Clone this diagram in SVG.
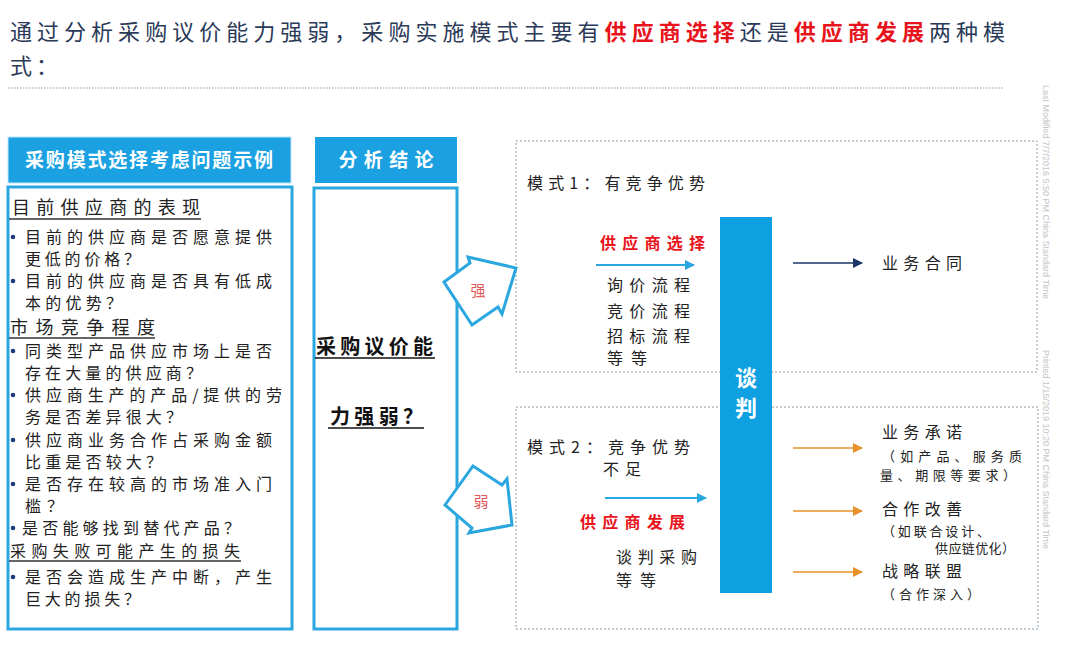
<svg xmlns="http://www.w3.org/2000/svg" width="1080" height="651" viewBox="0 0 1080 651">
<defs>
<style>
text{font-family:"Noto Sans CJK SC","Liberation Sans",sans-serif;}
.title{font-size:22px;fill:#2b3a58;}
.hdr{font-size:19px;fill:#fff;font-weight:bold;}
.lt{font-size:16px;fill:#222;}
.lh{font-size:18px;fill:#222;}
.t{font-size:16px;fill:#222;}
.s{font-size:13px;fill:#222;}
.mid{font-size:20px;fill:#111;font-weight:bold;}
text.red,tspan.red{fill:#e8141c;font-weight:bold;}
.bluefill{fill:#1ba1e2;}
.box{fill:none;stroke:#2aa7df;stroke-width:3;}
.dash{fill:none;stroke:#8a9aa8;stroke-width:1;stroke-dasharray:2 2;}
.ul{stroke:#333;stroke-width:1.5;}
.bul{fill:#1f3a78;}
.blk{fill:#fff;stroke:#2aa7df;stroke-width:3;stroke-linejoin:miter;}
.tiny{font-family:"Liberation Sans",sans-serif;font-size:9px;fill:#c4c4c4;}
</style>
<marker id="mb" viewBox="0 0 10 10" refX="9" refY="5" markerWidth="10" markerHeight="10" markerUnits="userSpaceOnUse" orient="auto"><path d="M0,0 L10,5 L0,10 z" fill="#2aa7df"/></marker>
<marker id="mn" viewBox="0 0 10 10" refX="9" refY="5" markerWidth="10" markerHeight="10" markerUnits="userSpaceOnUse" orient="auto"><path d="M0,0 L10,5 L0,10 z" fill="#1b3566"/></marker>
<marker id="mo" viewBox="0 0 10 10" refX="9" refY="5" markerWidth="10" markerHeight="10" markerUnits="userSpaceOnUse" orient="auto"><path d="M0,0 L10,5 L0,10 z" fill="#e8902a"/></marker>
</defs>
<rect width="1080" height="651" fill="#fff"/>

<g id="title">
<text class="title" x="10" y="40" textLength="995" lengthAdjust="spacing">通过分析采购议价能力强弱，采购实施模式主要有<tspan class="red">供应商选择</tspan>还是<tspan class="red">供应商发展</tspan>两种模</text>
<text class="title" x="10" y="74" textLength="48" lengthAdjust="spacing">式：</text>
<line x1="8" y1="88" x2="1003" y2="88" stroke="#999" stroke-width="1.2" stroke-dasharray="1.5 1.5"/>
</g>

<g id="footer">
<text class="tiny" transform="translate(1043,85) rotate(90)">Last Modified 7/7/2016 5:50 PM China Standard Time</text>
<text class="tiny" transform="translate(1043,350) rotate(90)">Printed 1/15/2019 10:20 PM China Standard Time</text>
</g>

<g id="left-header">
<rect class="bluefill" x="8" y="137" width="283" height="46" stroke="#bfe6f7" stroke-width="1"/>
<text class="hdr" x="149" y="167" text-anchor="middle" textLength="248" lengthAdjust="spacing">采购模式选择考虑问题示例</text>
</g>

<g id="left-box">
<rect class="box" x="8" y="187" width="284" height="442"/>
<text class="lh" x="12" y="214" textLength="188" lengthAdjust="spacing">目前供应商的表现</text>
<line class="ul" x1="9" y1="219" x2="201" y2="219"/>
<circle class="bul" cx="13" cy="237" r="2.3"/>
<text class="lt" x="25" y="243" textLength="247" lengthAdjust="spacing">目前的供应商是否愿意提供</text>
<text class="lt" x="25" y="265" textLength="115" lengthAdjust="spacing">更低的价格？</text>
<circle class="bul" cx="13" cy="281" r="2.3"/>
<text class="lt" x="25" y="287" textLength="247" lengthAdjust="spacing">目前的供应商是否具有低成</text>
<text class="lt" x="25" y="309" textLength="97" lengthAdjust="spacing">本的优势？</text>
<text class="lh" x="10" y="334" textLength="145" lengthAdjust="spacing">市场竞争程度</text>
<line class="ul" x1="9" y1="338" x2="155" y2="338"/>
<circle class="bul" cx="13" cy="351" r="2.3"/>
<text class="lt" x="25" y="357" textLength="247" lengthAdjust="spacing">同类型产品供应市场上是否</text>
<text class="lt" x="25" y="379" textLength="177" lengthAdjust="spacing">存在大量的供应商？</text>
<circle class="bul" cx="13" cy="395" r="2.3"/>
<text class="lt" x="25" y="401" textLength="257" lengthAdjust="spacing">供应商生产的产品/提供的劳</text>
<text class="lt" x="25" y="423" textLength="157" lengthAdjust="spacing">务是否差异很大？</text>
<circle class="bul" cx="13" cy="440" r="2.3"/>
<text class="lt" x="25" y="446" textLength="247" lengthAdjust="spacing">供应商业务合作占采购金额</text>
<text class="lt" x="25" y="468" textLength="137" lengthAdjust="spacing">比重是否较大？</text>
<circle class="bul" cx="13" cy="484" r="2.3"/>
<text class="lt" x="25" y="490" textLength="247" lengthAdjust="spacing">是否存在较高的市场准入门</text>
<text class="lt" x="25" y="512" textLength="38" lengthAdjust="spacing">槛？</text>
<circle class="bul" cx="13" cy="528" r="2.3"/>
<text class="lt" x="22" y="534" textLength="218" lengthAdjust="spacing">是否能够找到替代产品？</text>
<text class="lt" x="10" y="557" textLength="230" lengthAdjust="spacing">采购失败可能产生的损失</text>
<line class="ul" x1="9" y1="561" x2="241" y2="561"/>
<circle class="bul" cx="13" cy="577" r="2.3"/>
<text class="lt" x="25" y="583" textLength="247" lengthAdjust="spacing">是否会造成生产中断，产生</text>
<text class="lt" x="25" y="605" textLength="115" lengthAdjust="spacing">巨大的损失？</text>
</g>

<g id="mid-header">
<rect class="bluefill" x="315" y="137" width="142" height="46"/>
<text class="hdr" x="386" y="167" text-anchor="middle" textLength="95" lengthAdjust="spacing">分析结论</text>
</g>

<g id="mid-box">
<rect class="box" x="314" y="188" width="143" height="441"/>
<text class="mid" x="316" y="354" textLength="117" lengthAdjust="spacing">采购议价能</text>
<line x1="315" y1="358" x2="435" y2="358" stroke="#111" stroke-width="1.5"/>
<text class="mid" x="330" y="424" textLength="93" lengthAdjust="spacing">力强弱？</text>
<line x1="328" y1="428" x2="424" y2="428" stroke="#111" stroke-width="1.5"/>
</g>

<g id="mode1">
<rect class="dash" x="516" y="141" width="521" height="231"/>
<text class="t" x="527" y="189" textLength="178" lengthAdjust="spacing">模式1：有竞争优势</text>
<text class="t red" x="600" y="249" textLength="105" lengthAdjust="spacing">供应商选择</text>
<text class="t" x="607" y="291" textLength="83" lengthAdjust="spacing">询价流程</text>
<text class="t" x="607" y="317" textLength="83" lengthAdjust="spacing">竞价流程</text>
<text class="t" x="607" y="342" textLength="83" lengthAdjust="spacing">招标流程</text>
<text class="t" x="607" y="364" textLength="40" lengthAdjust="spacing">等等</text>
</g>

<g id="mode2">
<rect class="dash" x="516" y="407" width="522" height="222"/>
<text class="t" x="527" y="453" textLength="163" lengthAdjust="spacing">模式2：竞争优势</text>
<text class="t" x="603" y="475" textLength="38" lengthAdjust="spacing">不足</text>
<text class="t red" x="580" y="528" textLength="105" lengthAdjust="spacing">供应商发展</text>
<text class="t" x="616" y="563" textLength="81" lengthAdjust="spacing">谈判采购</text>
<text class="t" x="616" y="586" textLength="40" lengthAdjust="spacing">等等</text>
</g>

<g id="negotiation">
<rect x="720" y="217" width="52" height="376" fill="#0ea0e0"/>
<text x="746" y="386" text-anchor="middle" font-size="22" font-weight="bold" fill="#fff">谈</text>
<text x="746" y="416" text-anchor="middle" font-size="22" font-weight="bold" fill="#fff">判</text>
</g>

<g id="result-contract">
<text class="t" x="882" y="269" textLength="80" lengthAdjust="spacing">业务合同</text>
</g>

<g id="result-commit">
<text class="t" x="882" y="438" textLength="80" lengthAdjust="spacing">业务承诺</text>
<text class="s" x="882" y="461" textLength="140" lengthAdjust="spacing">（如产品、服务质</text>
<text class="s" x="880" y="480" textLength="136" lengthAdjust="spacing">量、期限等要求）</text>
</g>

<g id="result-improve">
<text class="t" x="882" y="515" textLength="80" lengthAdjust="spacing">合作改善</text>
<text class="s" x="882" y="536" font-size="12" textLength="108" lengthAdjust="spacing">（如联合设计、</text>
<text class="s" x="935" y="553" font-size="12" textLength="80" lengthAdjust="spacing">供应链优化）</text>
</g>

<g id="result-alliance">
<text class="t" x="882" y="577" textLength="80" lengthAdjust="spacing">战略联盟</text>
<text class="s" x="882" y="599" textLength="98" lengthAdjust="spacing">（合作深入）</text>
</g>

<g id="connectors">
<path class="blk" d="M444,282 L470,263 L468,257 L516,268 L502,314 L498,307 L472,325 Z"/>
<text x="478" y="296" text-anchor="middle" font-size="15" fill="#e05a5a">强</text>
<path class="blk" d="M445,505 L473,466 L502,485 L507,479 L512,525 L469,533 L472,528 Z"/>
<text x="481" y="507" text-anchor="middle" font-size="15" fill="#e05a5a">弱</text>
<line x1="596" y1="265" x2="694" y2="265" stroke="#2aa7df" stroke-width="2" marker-end="url(#mb)"/>
<line x1="605" y1="498" x2="706" y2="498" stroke="#2aa7df" stroke-width="2" marker-end="url(#mb)"/>
<line x1="793" y1="263" x2="862" y2="263" stroke="#1b3566" stroke-width="1.5" marker-end="url(#mn)"/>
<line x1="793" y1="448" x2="862" y2="448" stroke="#e8902a" stroke-width="1.5" marker-end="url(#mo)"/>
<line x1="793" y1="511" x2="862" y2="511" stroke="#e8902a" stroke-width="1.5" marker-end="url(#mo)"/>
<line x1="793" y1="572" x2="862" y2="572" stroke="#e8902a" stroke-width="1.5" marker-end="url(#mo)"/>
</g>
</svg>
